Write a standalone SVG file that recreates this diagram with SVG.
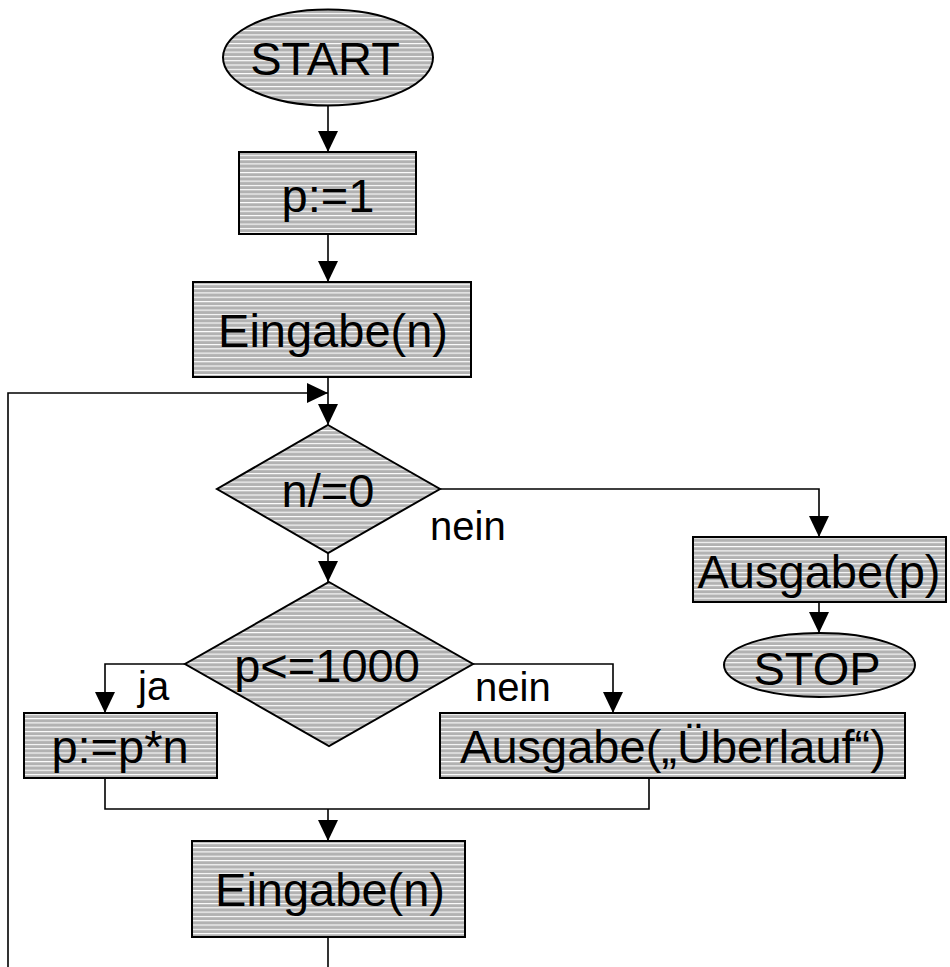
<svg xmlns="http://www.w3.org/2000/svg" width="950" height="967" viewBox="0 0 950 967">
  <defs>
    <!-- grey fill with fine white horizontal hatching -->
    <pattern id="hatch" patternUnits="userSpaceOnUse" width="8" height="4.3">
      <rect width="8" height="4.3" fill="#b2b2b2"/>
      <rect y="0" width="8" height="1.1" fill="#ffffff"/>
    </pattern>
    <marker id="arrow" markerUnits="userSpaceOnUse" markerWidth="21" markerHeight="20" refX="21" refY="10" orient="auto">
      <path d="M0,0 L21,10 L0,20 z" fill="#000"/>
    </marker>
    <style>
      .shape { fill: url(#hatch); stroke: #000; stroke-width: 2; }
      .label { font-family: "Liberation Sans", Arial, sans-serif; font-size: 47px; fill: #000; text-anchor: middle; }
      .branch { font-family: "Liberation Sans", Arial, sans-serif; font-size: 40px; fill: #000; }
      .conn { fill: none; stroke: #000; stroke-width: 1.6; }
      .arr { marker-end: url(#arrow); }
    </style>
  </defs>

  <!-- connectors -->
  <g id="connectors">
    <path class="conn arr" d="M328,106 V152"/>
    <path class="conn arr" d="M328,234 V282"/>
    <path class="conn arr" d="M328,377 V425"/>
    <path class="conn arr" d="M8,967 V393 H328"/>
    <path class="conn arr" d="M440,489 H819 V537"/>
    <path class="conn arr" d="M819,602 V633"/>
    <path class="conn arr" d="M328,553 V582"/>
    <path class="conn arr" d="M185,664 H105 V713"/>
    <path class="conn arr" d="M473,664 H613 V713"/>
    <path class="conn" d="M105,778 V809 H649 V778"/>
    <path class="conn arr" d="M328,809 V841"/>
    <path class="conn" d="M328,937 V967"/>
    <text class="branch" x="430" y="540">nein</text>
    <text class="branch" x="138" y="700">ja</text>
    <text class="branch" x="475" y="701">nein</text>
  </g>

  <g id="start">
    <ellipse class="shape" cx="328" cy="57.5" rx="105" ry="48"/>
    <text class="label" x="325" y="75">START</text>
  </g>

  <g id="init-p">
    <rect class="shape" x="239" y="152" width="177" height="82"/>
    <text class="label" x="328" y="212">p:=1</text>
  </g>

  <g id="input-n-1">
    <rect class="shape" x="193" y="282" width="278" height="95"/>
    <text class="label" x="333" y="347">Eingabe(n)</text>
  </g>

  <g id="check-n">
    <polygon class="shape" points="328,425 440,489 328,553 217,489"/>
    <text class="label" x="328" y="507">n/=0</text>
  </g>

  <g id="output-p">
    <rect class="shape" x="693" y="537" width="253" height="65"/>
    <text class="label" x="819" y="588">Ausgabe(p)</text>
  </g>

  <g id="stop">
    <ellipse class="shape" cx="819.5" cy="665" rx="95.5" ry="32"/>
    <text class="label" x="817" y="685">STOP</text>
  </g>

  <g id="check-p">
    <polygon class="shape" points="329,582 473,664 329,746 185,664"/>
    <text class="label" x="327" y="682">p&lt;=1000</text>
  </g>

  <g id="multiply">
    <rect class="shape" x="24" y="713" width="193" height="65"/>
    <text class="label" x="120" y="763">p:=p*n</text>
  </g>

  <g id="overflow">
    <rect class="shape" x="440" y="713" width="465" height="65"/>
    <text class="label" x="673" y="763">Ausgabe(„Überlauf“)</text>
  </g>

  <g id="input-n-2">
    <rect class="shape" x="192" y="841" width="273" height="96"/>
    <text class="label" x="330" y="906">Eingabe(n)</text>
  </g>
</svg>
